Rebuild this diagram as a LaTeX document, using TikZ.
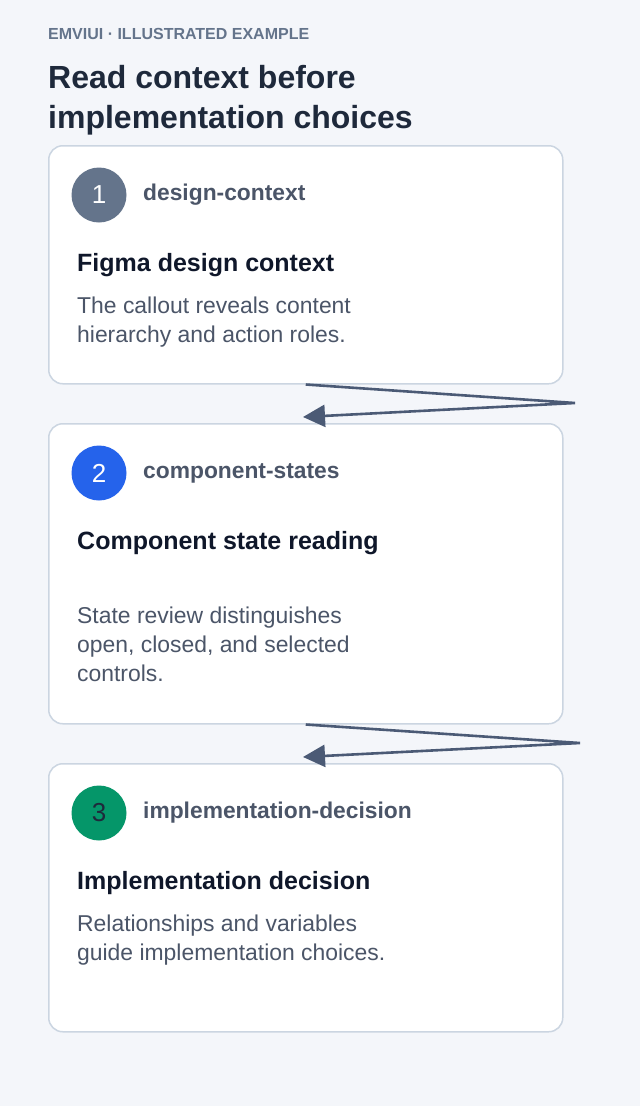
\documentclass[tikz,border=0pt]{standalone}
\usepackage{fontspec}
\setmainfont{Liberation Sans}
\usetikzlibrary{arrows.meta}
\definecolor{bgc}{HTML}{F4F6FA}
\definecolor{cardline}{HTML}{CBD5E1}
\definecolor{headc}{HTML}{64748B}
\definecolor{titlec}{HTML}{1E293B}
\definecolor{darkc}{HTML}{0F172A}
\definecolor{bodyc}{HTML}{4B5568}
\definecolor{labelc}{HTML}{4B5568}
\definecolor{connc}{HTML}{4B5A75}
\definecolor{c1col}{HTML}{64748B}
\definecolor{c2col}{HTML}{2563EB}
\definecolor{c3col}{HTML}{059669}
\tikzset{
  card/.style={draw=cardline, line width=1.5pt, fill=white, rounded corners=14pt, anchor=north west, minimum width=514pt, inner sep=0pt},
  badge/.style={circle, minimum size=55pt, inner sep=0pt, font=\fontsize{26}{26}\selectfont},
  lbl/.style={anchor=base west, inner sep=0pt, text=labelc, font=\fontsize{22.8}{26}\selectfont\bfseries},
  ttl/.style={anchor=base west, inner sep=0pt, text=darkc, font=\fontsize{25}{28}\selectfont\bfseries},
  body/.style={anchor=base west, inner sep=0pt, text=bodyc, font=\fontsize{22.9}{26}\selectfont},
  conn/.style={draw=connc, line width=2.6pt, line join=miter, -{Triangle[length=22pt,width=22pt]}}
}
\begin{document}
\begin{tikzpicture}[x=1pt,y=-1pt]
\fill[bgc] (0,0) rectangle (640,1106);
\useasboundingbox (0,0) rectangle (640,1106);
% header
\node[anchor=base west, inner sep=0pt, text=headc, font=\fontsize{16}{18}\selectfont\bfseries] (hd) at (48,39) {EMVIUI · ILLUSTRATED EXAMPLE};
\node[anchor=base west, inner sep=0pt, text=titlec, font=\fontsize{32}{36}\selectfont\bfseries] (t1) at (48,88) {Read context before};
\node[anchor=base west, inner sep=0pt, text=titlec, font=\fontsize{32}{36}\selectfont\bfseries] (t2) at (48,128) {implementation choices};
% cards
\node[card, minimum height=238pt] (c1) at (48,145) {};
\node[card, minimum height=300pt] (c2) at (48,423) {};
\node[card, minimum height=268pt] (c3) at (48,763) {};
% card 1
\node[badge, fill=c1col, text=white] (b1) at (99,195) {1};
\node[lbl] (l1) at (143,200) {design-context};
\node[ttl] (h1) at (77,271) {Figma design context};
\node[body] (p1a) at (77,313) {The callout reveals content};
\node[body] (p1b) at (77,342) {hierarchy and action roles.};
% card 2
\node[badge, fill=c2col, text=white] (b2) at (99,473) {2};
\node[lbl] (l2) at (143,478) {component-states};
\node[ttl] (h2) at (77,549) {Component state reading};
\node[body] (p2a) at (77,623) {State review distinguishes};
\node[body] (p2b) at (77,652) {open, closed, and selected};
\node[body] (p2c) at (77,681) {controls.};
% card 3
\node[badge, fill=c3col, text=titlec] (b3) at (99,813) {3};
\node[lbl] (l3) at (143,818) {implementation-decision};
\node[ttl] (h3) at (77,889) {Implementation decision};
\node[body] (p3a) at (77,931) {Relationships and variables};
\node[body] (p3b) at (77,960) {guide implementation choices.};
% connectors
\coordinate (k1) at (575,403);
\coordinate (e1) at (303,417);
\coordinate (k2) at (580,743);
\coordinate (e2) at (303,757);
\draw[conn] (c1.south) -- (k1) -- (e1);
\draw[conn] (c2.south) -- (k2) -- (e2);
\end{tikzpicture}
\end{document}
